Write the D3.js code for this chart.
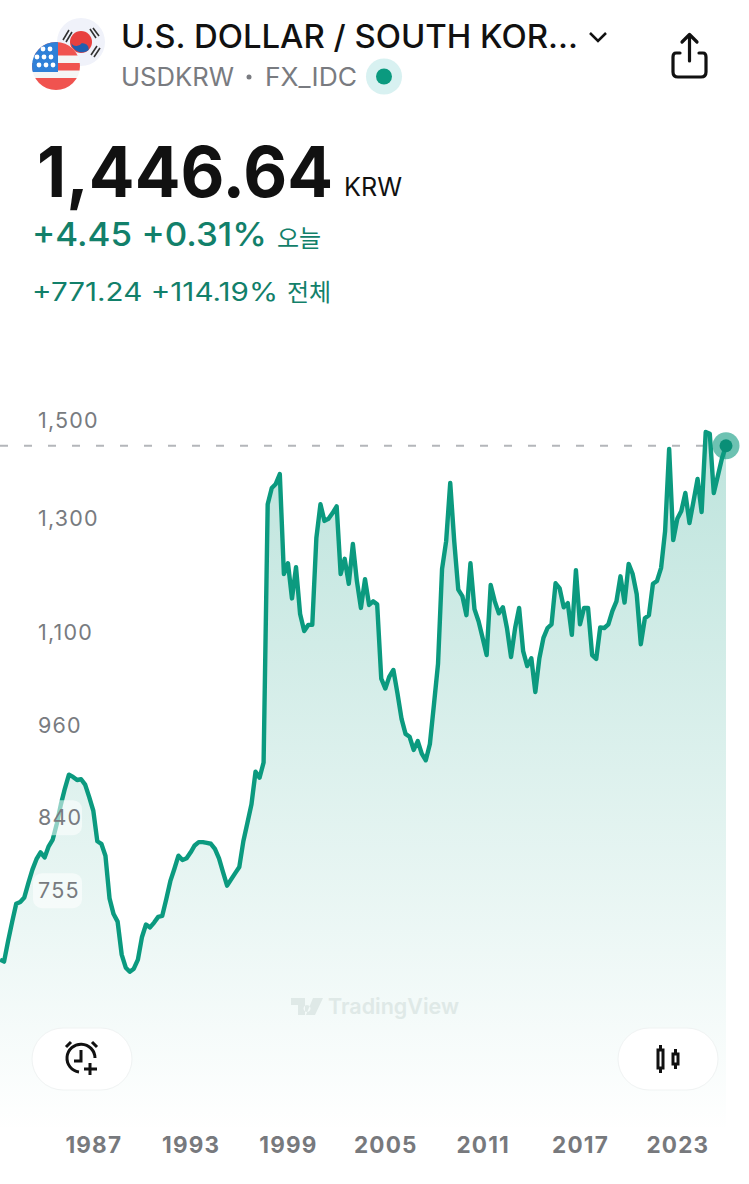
<!DOCTYPE html>
<html><head><meta charset="utf-8">
<script src="https://cdnjs.cloudflare.com/ajax/libs/d3/7.8.5/d3.min.js"></script>
<style>
html,body{margin:0;padding:0;background:#fff;width:749px;height:1184px;overflow:hidden}
svg{display:block}
text{font-family:Inter,Roboto,"Noto Sans","Noto Sans CJK KR",sans-serif}
</style></head><body>
<svg id="c" width="749" height="1184" viewBox="0 0 749 1184"></svg>
<script>
const startQuarter = "1981-04-01";
const values = [682,680,701,721,740,742,747,763,778,790,798,792,805,813,832,856,876,894,891,887,888,881,865,848,811,808,794,746,729,721,687,674,670,673,682,705,718,715,720,726,727,745,765,779,794,789,791,798,806,810,810,809,808,802,791,775,760,767,774,781,811,833,856,898,890,910,1328,1360,1368,1388,1199,1218,1157,1211,1131,1103,1113,1113,1264,1328,1296,1300,1311,1324,1199,1226,1182,1253,1187,1141,1190,1146,1152,1147,1029,1014,1032,1042,1007,970,949,945,927,939,922,913,935,991,1051,1208,1258,1370,1258,1172,1161,1129,1218,1139,1119,1092,1065,1180,1152,1132,1142,1108,1062,1108,1141,1071,1048,1060,1009,1060,1092,1108,1114,1183,1174,1142,1149,1097,1206,1114,1141,1141,1065,1059,1109,1108,1114,1136,1152,1195,1150,1217,1199,1164,1082,1124,1129,1182,1187,1210,1277,1440,1260,1300,1315,1350,1292,1334,1378,1313,1476,1472,1350,1384,1420,1446.64];
const priceTicks = [1500,1300,1100,960,840,755];
const yearTicks = [1987,1993,1999,2005,2011,2017,2023];
const lastPrice = 1446.64;
const green = "#0b9a7f";

const dates = values.map((_,i)=>d3.timeMonth.offset(new Date(startQuarter+"T00:00:00"),i*3));
const data = values.map((v,i)=>({d:dates[i],v}));
const x = d3.scaleTime().domain([dates[0],dates[dates.length-1]]).range([0,726]);
const y = d3.scaleLog().domain([1500,661]).range([421,981]);
const svg = d3.select("#c");
const defs = svg.append("defs");
const g = defs.append("linearGradient").attr("id","fill").attr("gradientUnits","userSpaceOnUse").attr("x1",0).attr("x2",0).attr("y1",431).attr("y2",1132);
g.append("stop").attr("offset","0%").attr("stop-color","#0b9a7f").attr("stop-opacity",.27);
g.append("stop").attr("offset","100%").attr("stop-color","#0b9a7f").attr("stop-opacity",0);

svg.append("line").attr("x1",0).attr("x2",726).attr("y1",y(lastPrice)).attr("y2",y(lastPrice))
  .attr("stroke","#b4b6ba").attr("stroke-width",2).attr("stroke-dasharray","8 16");

const bottom = 1132;
svg.append("path").datum(data)
  .attr("d",d3.area().x(d=>x(d.d)).y0(bottom).y1(d=>y(d.v)))
  .attr("fill","url(#fill)");
svg.append("path").datum(data)
  .attr("d",d3.line().x(d=>x(d.d)).y(d=>y(d.v)).curve(d3.curveLinear))
  .attr("fill","none").attr("stroke",green).attr("stroke-width",4.4).attr("stroke-linejoin","round");

[840,755].forEach(v=>{
  svg.append("rect").attr("x",33).attr("y",y(v)-17).attr("width",49).attr("height",35).attr("rx",9)
   .attr("fill","#fff").attr("fill-opacity",.55);
});
const yAxis = d3.axisRight(y).tickValues(priceTicks).tickFormat(d3.format(",")).tickSize(0).tickPadding(0);
const ya = svg.append("g").attr("transform","translate(38,0)").call(yAxis);
ya.select(".domain").remove();
ya.selectAll("text").attr("font-size",21.5).attr("fill","#787b80").attr("letter-spacing","1.2");

svg.append("circle").attr("cx",x(dates[dates.length-1])).attr("cy",y(lastPrice)).attr("r",13.5).attr("fill",green).attr("fill-opacity",.6);
svg.append("circle").attr("cx",x(dates[dates.length-1])).attr("cy",y(lastPrice)).attr("r",6.5).attr("fill","#0a8f77");

const xAxis = d3.axisBottom(x).tickValues(yearTicks.map(t=>new Date(t,0,1))).tickFormat(d3.timeFormat("%Y")).tickSize(0).tickPadding(0);
const xa = svg.append("g").attr("transform","translate(0,1137)").call(xAxis);
xa.select(".domain").remove();
xa.selectAll("text").attr("font-size",22.5).attr("font-weight",700).attr("fill","#77797d").attr("letter-spacing","1.2");

const wm = svg.append("g").attr("transform","translate(291,998)").attr("fill","#dfe9e7");
wm.append("path").attr("d","M0 0H14V17H7V7H0Z M16 7a3.5 3.5 0 1 0 .01 0Z M22 0H32L24 17H15Z");
wm.append("text").attr("x",37).attr("y",16).attr("font-size",21.5).attr("font-weight",600).text("TradingView");

[[32,100],[618,100]].forEach(([px,w])=>{
  svg.append("rect").attr("x",px).attr("y",1028).attr("width",w).attr("height",62).attr("rx",31)
    .attr("fill","#fff").attr("stroke","#f0f3f3").attr("stroke-width",1);
});
const al = svg.append("g").attr("fill","none").attr("stroke","#111").attr("stroke-width",3);
al.append("path").attr("d","M95 1058 A14 14 0 1 0 79 1072");
al.append("path").attr("d","M81 1050V1061H74");
al.append("path").attr("d","M66 1047L71 1042M97 1047L92 1042");
al.append("path").attr("d","M90 1063V1075M84 1069H97");
const ca = svg.append("g").attr("fill","none").attr("stroke","#111").attr("stroke-width",3);
ca.append("rect").attr("x",658).attr("y",1050).attr("width",5).attr("height",18);
ca.append("path").attr("d","M660.5 1045V1050M660.5 1068V1073");
ca.append("rect").attr("x",673).attr("y",1054).attr("width",5).attr("height",10);
ca.append("path").attr("d","M675.5 1049V1054M675.5 1064V1069");

const hdr = svg.append("g");
hdr.append("text").attr("x",121).attr("y",48).attr("font-size",32).attr("font-weight",500).attr("fill","#111").attr("textLength",457).attr("lengthAdjust","spacingAndGlyphs").text("U.S. DOLLAR / SOUTH KOR...");
hdr.append("path").attr("d","M590 33L598 41L606 33").attr("fill","none").attr("stroke","#111").attr("stroke-width",2.5);
hdr.append("text").attr("x",121).attr("y",86).attr("font-size",25).attr("fill","#797b80").attr("textLength",113).attr("lengthAdjust","spacingAndGlyphs").text("USDKRW");
hdr.append("circle").attr("cx",249).attr("cy",77).attr("r",2.5).attr("fill","#797b80");
hdr.append("text").attr("x",265).attr("y",86).attr("font-size",25).attr("fill","#797b80").attr("textLength",92).attr("lengthAdjust","spacingAndGlyphs").text("FX_IDC");
hdr.append("circle").attr("cx",384).attr("cy",76.5).attr("r",18).attr("fill","#d8f1f1");
hdr.append("circle").attr("cx",384).attr("cy",76.5).attr("r",8).attr("fill","#0b9a7f");

hdr.append("text").attr("x",37).attr("y",197).attr("font-size",70).attr("font-weight",700).attr("fill","#111").attr("textLength",296).attr("lengthAdjust","spacingAndGlyphs").text("1,446.64");
hdr.append("text").attr("x",344).attr("y",196).attr("font-size",25).attr("fill","#111").attr("textLength",58).attr("lengthAdjust","spacingAndGlyphs").text("KRW");
hdr.append("text").attr("x",32).attr("y",246).attr("font-size",33).attr("font-weight",500).attr("font-family","Roboto").attr("fill","#12806a").attr("textLength",235).attr("lengthAdjust","spacingAndGlyphs").text("+4.45 +0.31%");
hdr.append("text").attr("x",277).attr("y",247).attr("font-size",24).attr("font-family","'Noto Sans CJK KR'").attr("fill","#12806a").text("오늘");
hdr.append("text").attr("x",32).attr("y",301).attr("font-size",25).attr("font-family","Roboto").attr("fill","#12806a").attr("textLength",246).attr("lengthAdjust","spacingAndGlyphs").text("+771.24 +114.19%");
hdr.append("text").attr("x",287).attr("y",301).attr("font-size",24).attr("font-family","'Noto Sans CJK KR'").attr("fill","#12806a").text("전체");

const sh = svg.append("g").attr("fill","none").attr("stroke","#111").attr("stroke-width",3.2).attr("stroke-linecap","round").attr("stroke-linejoin","round");
sh.append("path").attr("d","M680 53H676Q673 53 673 57V72Q673 77 678 77H701Q706 77 706 72V57Q706 53 703 53H699");
sh.append("path").attr("d","M689.5 61V35M682 42L689.5 34.5L697 42");

const cp = defs.append("clipPath").attr("id","kr"); cp.append("circle").attr("cx",81).attr("cy",42).attr("r",24);
const cu = defs.append("clipPath").attr("id","us"); cu.append("circle").attr("cx",56).attr("cy",66).attr("r",24);
const kr = svg.append("g").attr("clip-path","url(#kr)");
kr.append("rect").attr("x",55).attr("y",16).attr("width",52).attr("height",52).attr("fill","#f0f2fa");
kr.append("circle").attr("cx",81).attr("cy",42).attr("r",11).attr("fill","#e8403f");
kr.append("path").attr("d","M72 46A6 6 0 0 0 82 43A6 6 0 0 1 91 47A11 11 0 0 1 72 46Z").attr("fill","#1f5fb0").attr("transform","rotate(20 81 42)");
kr.append("path").attr("d","M63 40L69 30M66 42L72 32M90 29L96 38M93 28L99 36M91 55L97 46M94 57L100 48").attr("stroke","#333").attr("stroke-width",1.6);
const us = svg.append("g").attr("clip-path","url(#us)");
us.append("rect").attr("x",32).attr("y",42).attr("width",48).attr("height",48).attr("fill","#f5f5f5");
[48,63,78].forEach(v=>us.append("rect").attr("x",32).attr("y",v).attr("width",48).attr("height",v===78?14:7.5).attr("fill","#f0534f"));
us.append("rect").attr("x",32).attr("y",42).attr("width",48).attr("height",6).attr("fill","#f0534f");
us.append("rect").attr("x",32).attr("y",42).attr("width",26).attr("height",30).attr("fill","#2f80d8");
[[43,49],[50,49],[37,57],[44,57],[51,57],[39,65],[46,65],[53,65]].forEach(([a,b])=>us.append("circle").attr("cx",a).attr("cy",b).attr("r",2.4).attr("fill","#fff"));
</script>
</body></html>
